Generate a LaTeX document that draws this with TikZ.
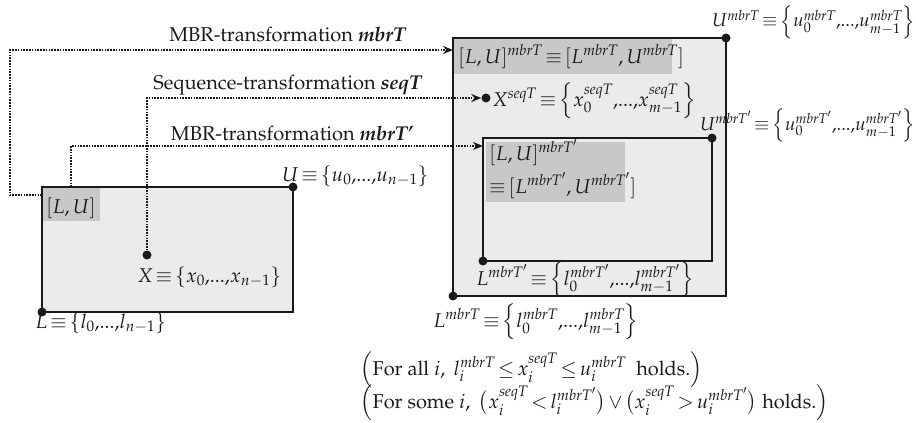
\documentclass[tikz,border=0pt]{standalone}
\usepackage{amsmath}
\usepackage{mathpazo}
\usepackage[T1]{fontenc}
\usetikzlibrary{arrows.meta}
\definecolor{ink}{HTML}{1A1A1A}
\definecolor{paper}{HTML}{EBEBED}
\definecolor{shade}{HTML}{C8C8C8}
\newcommand{\tmbr}{\mathit{mbrT}}
\newcommand{\tmbrp}{\mathit{mbrT}'}
\newcommand{\tseq}{\mathit{seqT}}
\newcommand{\seqdots}{\mbox{,...,}}
\newcommand{\seqset}[1]{\Bigl\{#1\Bigr\}}
\thickmuskip=2.5mu
\medmuskip=2mu
\begin{document}
\begin{tikzpicture}[x=1pt,y=-1pt,
  region/.style={draw=ink, line width=2.6pt, fill=paper},
  tag/.style={fill=shade, draw=none},
  corner/.style={circle, fill=ink, inner sep=0pt, minimum size=9pt},
  link/.style={draw=ink, line width=2pt, dash pattern=on 1.6pt off 1.2pt,
    -{Stealth[length=10pt,width=8pt]}},
  lbl/.style={inner sep=0pt, text=ink, font={\fontsize{20}{24}\selectfont}},
  mlbl/.style={lbl, font={\fontsize{18.5}{22}\selectfont}},
]
\useasboundingbox (0,0) rectangle (916,423);

% original MBR [L,U]
\coordinate (aSW) at (42,312);
\coordinate (aNE) at (293,187);
\draw[region] (aSW) rectangle (aNE);
\fill[tag] (43.3,188.3) rectangle (100,221);
\node[lbl, anchor=base west] (aTag) at (46,213) {$[L,U]$};
\node[corner] (aL) at (aSW) {};
\node[corner] (aU) at (aNE) {};
\node[corner] (x) at (147,255) {};
\coordinate (aW) at (42,195);
\coordinate (aTop) at (71,187);
\node[lbl, anchor=base west] (uLab) at (282,181) {$U\equiv\left\{u_0\seqdots u_{n-1}\right\}$};
\node[lbl, anchor=base west] (lLab) at (35,328) {$L\equiv\left\{l_0\seqdots l_{n-1}\right\}$};
\node[lbl, anchor=base west] (xLab) at (137,282) {$X\equiv\left\{x_0\seqdots x_{n-1}\right\}$};

% transformed MBR under mbrT
\coordinate (bSW) at (453,296);
\coordinate (bNE) at (726,38);
\draw[region] (bSW) rectangle (bNE);
\fill[tag] (454.3,39.3) rectangle (672,74);
\node[lbl, anchor=base west] (bTag) at (458,63)
  {$[L,U]^{\tmbr}\equiv[L^{\tmbr},U^{\tmbr}]$};
\coordinate (bIn) at (453,50);

% transformed MBR under mbrT'
\coordinate (cSW) at (483,261);
\coordinate (cNE) at (712,138);
\draw[region] (cSW) rectangle (cNE);
\fill[tag] (486,142) rectangle (625,202);
\node[lbl, anchor=base west] (cTagA) at (489,160) {$[L,U]^{\tmbrp}$};
\node[lbl, anchor=base west] (cTagB) at (489,193) {$\equiv[L^{\tmbrp},U^{\tmbrp}]$};
\coordinate (cIn) at (483,146);

% corner points of the transformed MBRs
\node[corner] (bL) at (bSW) {};
\node[corner] (bU) at (bNE) {};
\node[corner] (cL) at (cSW) {};
\node[corner] (cU) at (cNE) {};
\node[corner] (xs) at (486,98) {};

\node[lbl, anchor=base west] (xsLab) at (492,106)
  {$X^{\tseq}\equiv\seqset{x_0^{\tseq}\seqdots x_{m-1}^{\tseq}}$};
\node[mlbl, anchor=base west] (buLab) at (712,27)
  {$U^{\tmbr}\equiv\seqset{u_0^{\tmbr}\seqdots u_{m-1}^{\tmbr}}$};
\node[mlbl, anchor=base west] (cuLab) at (700,130)
  {$U^{\tmbrp}\equiv\seqset{u_0^{\tmbrp}\seqdots u_{m-1}^{\tmbrp}}$};
\node[lbl, anchor=base west] (clLab) at (476,285)
  {$L^{\tmbrp}\equiv\seqset{l_0^{\tmbrp}\seqdots l_{m-1}^{\tmbrp}}$};
\node[lbl, anchor=base west] (blLab) at (433,327)
  {$L^{\tmbr}\equiv\seqset{l_0^{\tmbr}\seqdots l_{m-1}^{\tmbr}}$};

% transformations
\draw[link] (aW) -- ++(-32,0) |- (bIn);
\draw[link] (x) |- (xs);
\draw[link] (aTop) |- (cIn);
\node[lbl, anchor=base] (t1) at (288,41) {MBR-transformation \textbf{\textit{mbrT}}};
\node[lbl, anchor=base] (t2) at (288,89) {Sequence-transformation \textbf{\textit{seqT}}};
\node[lbl, anchor=base] (t3) at (292,140) {MBR-transformation \textbf{\textit{mbrT'}}};

% conditions
\node[lbl, anchor=base west] (c1) at (360,375)
  {$\Bigl(\text{For all }i,\ l_i^{\tmbr}\le x_i^{\tseq}\le u_i^{\tmbr}\ \text{ holds.}\Bigr)$};
\node[lbl, anchor=base west] (c2) at (360,408)
  {$\Bigl(\text{For some }i,\ \bigl(x_i^{\tseq}<l_i^{\tmbrp}\bigr)\vee\bigl(x_i^{\tseq}>u_i^{\tmbrp}\bigr)\ \text{holds.}\Bigr)$};
\end{tikzpicture}
\end{document}
